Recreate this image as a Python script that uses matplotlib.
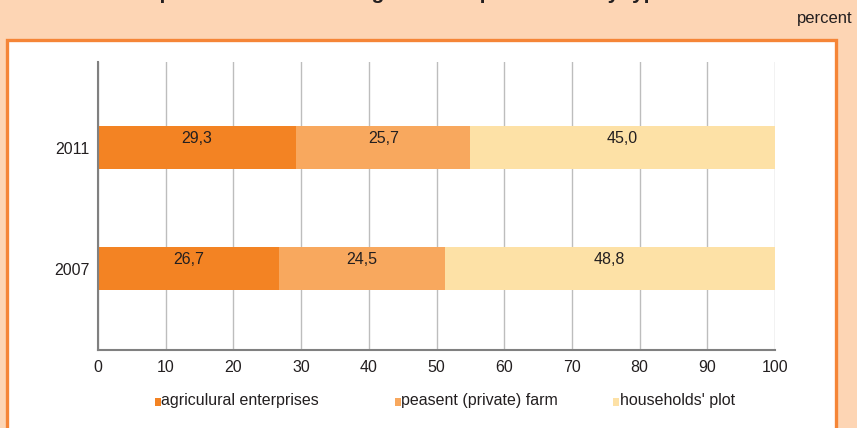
import matplotlib
matplotlib.use("Agg")
import matplotlib.pyplot as plt
from matplotlib.patches import Rectangle

plt.rcParams['font.family'] = ['Liberation Sans', 'DejaVu Sans']

years = ["2007", "2011"]
series_names = ["agriculural enterprises", "peasent (private) farm", "households' plot"]
agri = [26.7, 29.3]
peasant = [24.5, 25.7]
households = [48.8, 45.0]
x_ticks = [0, 10, 20, 30, 40, 50, 60, 70, 80, 90, 100]

colors = ["#F38323", "#F8A85E", "#FDE1A6"]
bg = "#FDD5B4"
border = "#F58537"
txt = "#231F20"
FS = 11.5

W, H = 857, 428
fig = plt.figure(figsize=(W / 100, H / 100), dpi=100)
fig.patch.set_facecolor(bg)

# white panel with orange border
panel = Rectangle((7 / W, -0.05), (836 - 7) / W, 1 - 40 / H + 0.05,
                  transform=fig.transFigure, facecolor="white",
                  edgecolor=border, linewidth=2.4, zorder=-5)
fig.patches.append(panel)

# title (cropped at top of image in the reference)
fig.text(113 / W, 1 + 1 / H, "Composition of the total agricultural production by types of farms",
         ha="left", va="baseline", fontsize=15, fontweight="bold", color=txt)
fig.text(853 / W, 1 - 19 / H, "percent", ha="right", va="center", fontsize=12, color=txt)

ax = fig.add_axes([98 / W, 1 - 350 / H, (775 - 98) / W, (350 - 62) / H])
ax.set_facecolor("none")
ax.set_zorder(2)

ypos = list(range(len(years)))
series = [agri, peasant, households]
bar_h = 0.355
left = [0.0] * len(years)
for vals, c in zip(series, colors):
    ax.barh(ypos, vals, left=left, height=bar_h, color=c, edgecolor="none", zorder=2)
    for i, v in enumerate(vals):
        ax.text(left[i] + v / 2, ypos[i] + 0.075, f"{v:.1f}".replace(".", ","),
                ha="center", va="center", fontsize=FS, color=txt, zorder=3)
    left = [l + v for l, v in zip(left, vals)]

ax.set_xlim(0, 100)
ax.set_ylim(-0.673, 1.71)
ax.set_xticks(x_ticks)
ax.set_xticklabels([str(t) for t in x_ticks], fontsize=FS, color=txt)
ax.set_yticks(ypos)
ax.set_yticklabels(years, fontsize=FS, color=txt)
ax.tick_params(axis="both", length=0)
ax.tick_params(axis="x", pad=7)
ax.tick_params(axis="y", pad=6)
ax.grid(axis="x", color="#BDBDBD", linewidth=1, zorder=1)
ax.set_axisbelow(True)
for s in ["top", "right"]:
    ax.spines[s].set_visible(False)
for s in ["left", "bottom"]:
    ax.spines[s].set_color("#808080")
    ax.spines[s].set_linewidth(1.5)

# legend
leg_y = 1 - 401 / H
for xs, xt, name, c in zip([155, 395, 613], [161, 401, 620], series_names, colors):
    fig.patches.append(Rectangle((xs / W, leg_y - 5 / H), 6 / W, 8 / H,
                                 transform=fig.transFigure, facecolor=c, edgecolor="none"))
    fig.text(xt / W, leg_y, name, ha="left", va="center", fontsize=FS, color=txt)

fig.savefig("out.png", dpi=100, facecolor=bg)
